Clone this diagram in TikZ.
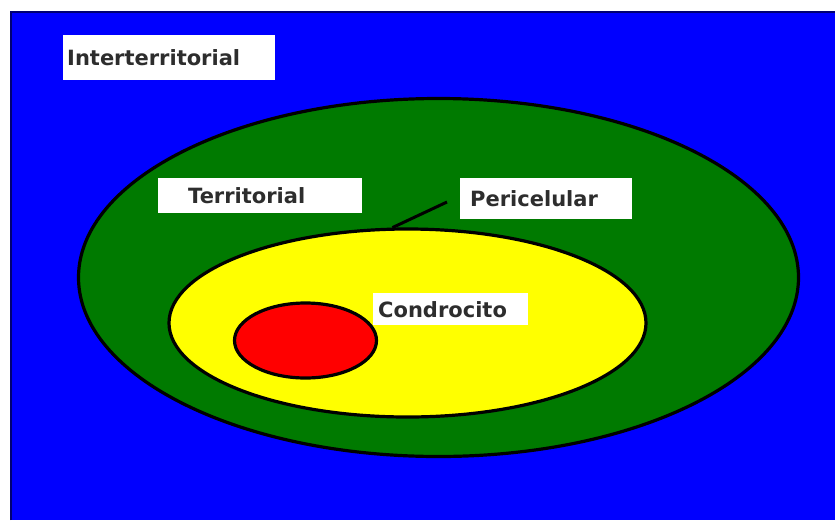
\documentclass[tikz,border=0pt]{standalone}
\usepackage{fontspec}
\setsansfont{DejaVu Sans}
\usetikzlibrary{shapes.geometric, positioning}
\definecolor{fondo}{RGB}{0,0,255}
\definecolor{verde}{RGB}{0,122,0}
\definecolor{amarillo}{RGB}{255,255,0}
\definecolor{rojo}{RGB}{255,0,0}
\definecolor{texto}{RGB}{45,45,45}

\begin{document}
\begin{tikzpicture}[
  x=1pt, y=-1pt,
  zona/.style={ellipse, draw=black, line width=3.2pt, fill=#1, inner sep=0pt},
  etiqueta/.style={rectangle, fill=white, inner ysep=0pt, align=left,
                   font=\sffamily\bfseries\fontsize{21}{24}\selectfont,
                   text=texto, anchor=north west},
  linea/.style={draw=black, line width=3pt}
]
\useasboundingbox (0,0) rectangle (835,520);
\fill[fondo] (11,12) rectangle (835,520);
\draw[fondo!45!black, line width=1.5pt] (11,520) -- (11,12) -- (835,12);

\node[zona=verde, minimum width=720pt, minimum height=358pt] (territorio) at (438.5,277.5) {};
\node[zona=amarillo, minimum width=477pt, minimum height=188pt] (pericelulo) at (407.5,323) {};
\node[zona=rojo, minimum width=142pt, minimum height=75pt] (celula) at (305.5,340.5) {};

\node[etiqueta, inner xsep=4pt, text width=204pt, minimum height=45pt] (inter) at (63,35) {Interterritorial};
\node[etiqueta, inner xsep=30pt, text width=144pt, minimum height=35pt] (terri) at (158,178) {Territorial};
\node[etiqueta, inner xsep=10pt, text width=152pt, minimum height=41pt] (peri) at (460,178) {Pericelular};
\node[etiqueta, inner xsep=5pt, text width=145pt, minimum height=32pt] (condro) at (373,293) {Condrocito};

\coordinate (punta) at (447,202);
\draw[linea] (pericelulo.99) -- (punta);
\end{tikzpicture}
\end{document}
